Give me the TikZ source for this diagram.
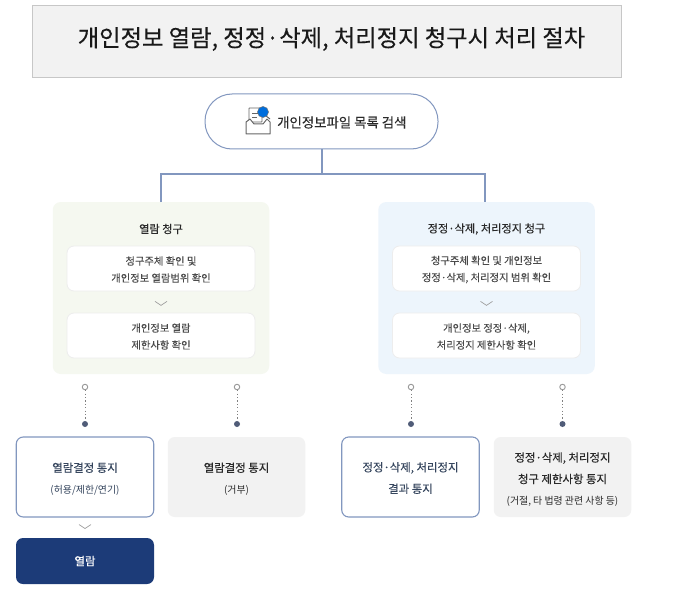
\documentclass[tikz,border=0pt]{standalone}
\usepackage{fontspec}
\setmainfont{Noto Sans CJK KR}
\usetikzlibrary{calc}
\definecolor{linkblue}{HTML}{8297BF}
\definecolor{navy}{HTML}{1C3B78}
\definecolor{txt}{HTML}{2A2A2A}
\definecolor{txtgrey}{HTML}{4A4A4A}
\definecolor{txtblue}{HTML}{36465E}
\definecolor{panelgreen}{HTML}{F5F8F0}
\definecolor{panelblue}{HTML}{EDF5FC}
\definecolor{dotfill}{HTML}{505C78}
\definecolor{lensblue}{HTML}{006EDC}
\newcommand\heavyt{\fontsize{11.4}{21.5}\selectfont\addfontfeatures{FakeBold=0.25}}
\newcommand\smallt{\fontsize{9.9}{21.5}\selectfont}
\tikzset{
  x=1pt,y=-1pt,
  titlebox/.style={draw=black!22,fill=black!5,minimum width=589pt,minimum height=72pt,inner sep=0pt},
  titletext/.style={inner sep=0pt,font=\fontsize{23.3}{28}\selectfont\addfontfeatures{FakeBold=0.2},text=black!90},
  pill/.style={draw=linkblue,line width=1pt,fill=white,rounded corners=27pt,minimum width=233pt,minimum height=55pt,inner sep=0pt},
  panel/.style={rounded corners=8pt,minimum width=216.5pt,minimum height=172pt,inner sep=0pt},
  inner box/.style={draw=black!7,line width=.8pt,fill=white,rounded corners=7pt,minimum width=188pt,minimum height=45pt,inner sep=0pt},
  inner text/.style={inner sep=0pt,align=center,text=txtgrey,font=\fontsize{10.3}{17}\selectfont\addfontfeatures{FakeBold=0.1}},
  head/.style={inner sep=0pt,text=txt,font=\fontsize{11.2}{14}\selectfont\addfontfeatures{FakeBold=0.25}},
  result/.style={rounded corners=7pt,minimum width=137.5pt,minimum height=80pt,inner sep=0pt},
  outlined/.style={result,draw=linkblue,line width=1.1pt,fill=white},
  greyed/.style={result,fill=black!5},
  result text/.style={inner sep=0pt,align=center,font=\fontsize{11.4}{21.5}\selectfont},
  link/.style={draw=linkblue,line width=1.1pt},
  chev/.style={draw=black!38,line width=.7pt},
  dots/.style={draw=black!50,line width=.9pt,dash pattern=on 1.1pt off 2.3pt},
  opendot/.style={circle,draw=black!40,fill=white,line width=.9pt,minimum size=5.5pt,inner sep=0pt},
  fulldot/.style={circle,fill=dotfill,minimum size=6pt,inner sep=0pt},
}
\begin{document}
\begin{tikzpicture}
\useasboundingbox (0,0) rectangle (680,591);
\fill[white] (0,0) rectangle (680,591);
\node[titlebox] (title) at (326.5,41) {};
\node[titletext] (titlet) at (331.5,39) {개인정보 열람, 정정·삭제, 처리정지 청구시 처리 절차};

\coordinate (split) at (322,174);
\coordinate (dropl) at (161,202);
\coordinate (dropr) at (485,202);
\node[panel,fill=panelgreen] (pl) at (161,288) {};
\node[panel,fill=panelblue] (pr) at (486.5,288) {};
\node[pill] (search) at (321.5,121.5) {};
\node[inner sep=0pt,anchor=west,font=\fontsize{13.4}{15}\selectfont\addfontfeatures{FakeBold=0.2},text=txt] (searcht) at (277,122.5) {개인정보파일 목록 검색};
\draw[link] (search.south -| split) -- (split);
\draw[link] (dropl) |- (split) -| (dropr);

% icon
\fill[white,draw=black!60,line width=.9pt,rounded corners=.5pt] (249,108) rectangle (262,122);
\draw[black!60,line width=.8pt] (252,113) -- (259,113) (252,117) -- (257,117);
\draw[black!60,line width=1pt,fill=white,line join=round] (246,122) -- (250,119) -- (254,124) -- (263,124) -- (267,119) -- (270,122) -- (270,134) -- (246,134) -- cycle;
\draw[black!60,line width=1pt] (266,116) -- (270,119);
\node[circle,fill=lensblue,draw=black!55,line width=.5pt,minimum size=11pt,inner sep=0pt] (lens) at (263,112) {};

\node[head] (hl) at (161,229) {열람 청구};
\node[inner box] (l1) at (161,268.5) {};
\node[inner text] (l1t) at (161,269.5) {청구주체 확인 및\\개인정보 열람범위 확인};
\node[inner box] (l2) at (161,335.5) {};
\node[inner text] (l2t) at (161,336.5) {개인정보 열람\\제한사항 확인};
\draw[chev] ($(l1.south)+(-6,10)$) -- ($(l1.south)+(0,14)$) -- ($(l1.south)+(6,10)$);

\node[head] (hr) at (486.5,229) {정정·삭제, 처리정지 청구};
\node[inner box] (r1) at (486.5,268.5) {};
\node[inner text] (r1t) at (486.5,269.5) {청구주체 확인 및 개인정보\\정정·삭제, 처리정지 범위 확인};
\node[inner box] (r2) at (486.5,335.5) {};
\node[inner text] (r2t) at (486.5,336.5) {개인정보 정정·삭제,\\처리정지 제한사항 확인};
\draw[chev] ($(r1.south)+(-6,10)$) -- ($(r1.south)+(0,14)$) -- ($(r1.south)+(6,10)$);

\node[outlined] (b1) at (85,477) {};
\node[result text,text=txtblue] (b1t) at (85,479) {{\heavyt 열람결정 통지}\\{\smallt (허용/제한/연기)}};
\node[greyed] (b2) at (236.5,477) {};
\node[result text,text=txt] (b2t) at (236.5,479) {{\heavyt 열람결정 통지}\\{\smallt (거부)}};
\node[outlined] (b3) at (410.5,477) {};
\node[result text,text=txtblue] (b3t) at (410.5,478) {{\heavyt 정정·삭제, 처리정지}\\{\heavyt 결과 통지}};
\node[greyed] (b4) at (562.5,477) {};
\node[result text,text=txt] (b4t) at (562.5,479.5) {{\heavyt 정정·삭제, 처리정지}\\{\heavyt 청구 제한사항 통지}\\{\smallt (거절, 타 법령 관련 사항 등)}};
\node[fill=navy,text=white,rounded corners=7pt,minimum width=138pt,minimum height=46pt,inner sep=0pt,font=\fontsize{11.5}{14}\selectfont\addfontfeatures{FakeBold=0.25}] (view) at (85,561) {열람};

\draw[chev] ($(b1.south)+(-6,7)$) -- ($(b1.south)+(0,11)$) -- ($(b1.south)+(6,7)$);

\foreach \n/\x in {1/85,2/237,3/411,4/562.5}{
  \node[opendot] (o\n) at (\x,387) {};
  \node[fulldot] (f\n) at (\x,424) {};
  \draw[dots] (o\n) -- (f\n);
}
\end{tikzpicture}
\end{document}
